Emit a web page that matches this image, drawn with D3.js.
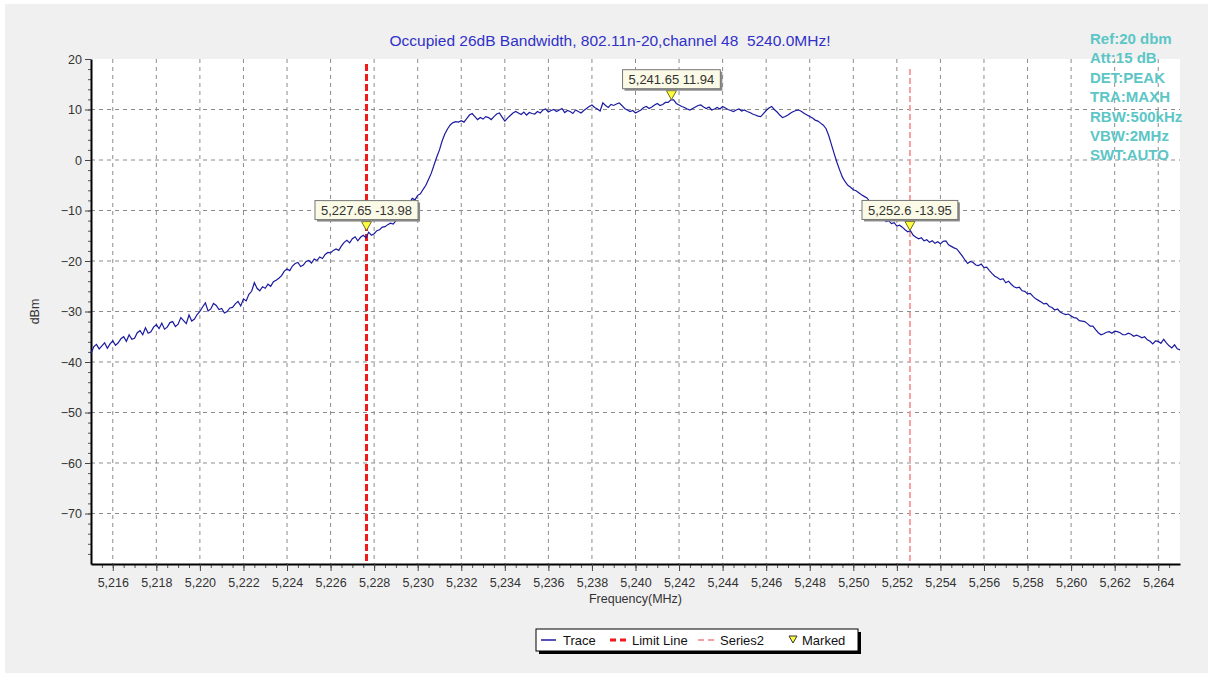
<!DOCTYPE html>
<html>
<head>
<meta charset="utf-8">
<script src="https://cdn.jsdelivr.net/npm/d3@7"></script>
<style>
  html, body { margin: 0; padding: 0; background: #ffffff; }
  svg { display: block; font-family: "Liberation Sans", Arial, sans-serif; }
</style>
</head>
<body>
<svg id="chart" width="1213" height="679"></svg>
<script>
// Частотная сетка трассы: 5215..5265 МГц, шаг 0.125
const freqStart = 5215
const freqStep = 0.125

// Значения трассы (dBm), по 8 точек на МГц
const traceValues = [
  -38.3, -37.0, -36.5, -37.4, -36.8, -36.2, -37.3, -36.4,
  -35.8, -36.7, -36.2, -35.4, -35.0, -35.9, -34.6, -35.5,
  -35.3, -34.2, -33.8, -34.6, -33.2, -34.3, -34.0, -33.1,
  -32.6, -33.4, -32.3, -33.5, -33.1, -32.2, -32.0, -33.0,
  -32.5, -31.2, -31.8, -32.4, -30.7, -31.9, -31.5, -30.6,
  -30.0, -29.1, -28.3, -29.9, -29.5, -28.4, -28.8, -29.6,
  -29.4, -30.3, -30.0, -29.3, -29.2, -28.5, -28.0, -28.9,
  -27.5, -27.9, -26.6, -26.0, -24.3, -25.4, -25.9, -25.1,
  -25.4, -24.6, -25.0, -24.1, -23.8, -23.4, -22.9, -22.0,
  -21.6, -21.9, -21.0, -20.5, -20.3, -21.1, -20.8, -20.1,
  -19.9, -20.4, -19.6, -19.9, -19.2, -19.5, -18.7, -18.3,
  -18.4, -17.9, -17.6, -17.9, -17.0, -16.3, -15.9, -16.4,
  -15.6, -15.2, -16.0, -15.3, -14.9, -15.4, -14.3, -14.9,
  -14.6, -14.0, -13.8, -13.3, -13.2, -12.8, -12.5, -12.7,
  -12.0, -11.6, -11.0, -10.4, -9.6, -8.5, -7.6, -7.9,
  -7.0, -6.7, -5.8, -5.0, -3.8, -2.6, -1.0, 0.6,
  2.0, 3.8, 5.2, 6.2, 7.0, 7.4, 7.6, 7.5,
  7.8, 7.5, 8.2, 8.9, 9.2, 8.6, 8.0, 8.4,
  8.1, 8.6, 8.4, 8.0, 8.6, 9.1, 9.3, 8.5,
  7.7, 8.3, 8.8, 9.3, 9.6, 9.3, 9.0, 9.5,
  8.9, 9.4, 9.2, 9.1, 9.6, 9.3, 9.9, 10.1,
  9.5, 9.8, 10.0, 9.6, 9.9, 10.2, 9.4, 9.8,
  9.6, 9.2, 9.9, 9.6, 9.3, 9.8, 10.2, 10.6,
  10.9, 10.4, 10.1, 9.7, 11.3, 10.8, 10.4, 11.0,
  10.8, 11.1, 11.3, 10.8, 10.2, 9.9, 9.6, 9.8,
  9.3, 9.6, 9.9, 10.4, 10.6, 10.2, 10.5, 10.9,
  11.2, 10.8, 11.0, 11.4, 11.4, 11.9, 11.9, 11.2,
  10.9, 10.6, 10.4, 10.1, 9.9, 10.2, 10.5, 10.8,
  10.9, 10.5, 10.2, 10.5, 9.9, 10.1, 10.4, 10.1,
  10.6, 10.3, 10.0, 9.8, 9.6, 9.9, 10.1, 9.7,
  9.9, 9.6, 9.4, 9.1, 8.9, 8.7, 8.6, 9.2,
  9.8, 10.3, 10.6, 10.0, 9.5, 8.9, 8.4, 8.6,
  8.9, 9.3, 9.6, 9.8, 9.9, 9.6, 9.2, 8.9,
  8.6, 8.3, 7.9, 7.7, 7.3, 6.9, 6.2, 4.8,
  3.0, 1.2, -0.5, -2.0, -3.4, -4.3, -5.0, -5.4,
  -5.9, -6.1, -6.5, -6.9, -7.2, -7.5, -8.2, -8.8,
  -9.6, -10.4, -11.0, -11.4, -12.2, -12.0, -12.6, -12.4,
  -13.1, -12.9, -13.3, -13.8, -14.2, -14.0, -14.9, -15.3,
  -15.6, -15.4, -16.0, -15.8, -16.3, -16.0, -16.5, -16.2,
  -16.6, -16.1, -16.0, -16.8, -17.1, -17.4, -17.6, -18.3,
  -19.0, -19.8, -20.5, -20.1, -20.3, -20.8, -20.9, -20.6,
  -21.3, -21.2, -21.9, -22.5, -23.0, -23.3, -23.7, -23.5,
  -24.3, -24.0, -24.6, -25.1, -25.3, -25.2, -25.9, -26.0,
  -26.5, -26.4, -27.0, -27.5, -27.8, -28.1, -28.5, -28.4,
  -29.0, -29.2, -29.7, -29.5, -30.1, -30.4, -30.6, -30.5,
  -30.9, -31.2, -31.3, -31.8, -31.9, -32.0, -32.4, -32.9,
  -32.9, -33.6, -34.2, -34.6, -34.4, -34.1, -34.0, -34.3,
  -33.9, -34.0, -34.2, -34.6, -34.6, -34.3, -34.5, -34.9,
  -34.7, -34.9, -35.2, -35.0, -35.6, -35.9, -36.4, -35.8,
  -35.9, -36.3, -35.5, -36.2, -36.8, -37.2, -36.6, -37.4,
  -37.6
]

// Маркеры
const markerFreqs = [5227.65, 5241.65, 5252.6]
const markerLevels = [-13.98, 11.94, -13.95]

// Вертикальные линии
const limitLineFreq = 5227.65
const series2Freq = 5252.6

// Подписи осей
const xTicks = d3.range(5216, 5265, 2)
const yTicks = d3.range(-70, 21, 10)
const infoLines = ['Ref:20 dbm', 'Att:15 dB', 'DET:PEAK', 'TRA:MAXH', 'RBW:500kHz', 'VBW:2MHz', 'SWT:AUTO']
const legendNames = ['Trace', 'Limit Line', 'Series2', 'Marked']

const config = {
  plotLeft: 91,
  plotRight: 1180,
  plotTop: 59,
  plotBottom: 564,
  colors: {
    bg: '#f0f0f0',
    trace: '#1a1aa0',
    limit: '#f01818',
    series2: '#f4a0a0',
    grid: '#8c8c8c',
    text: '#333333',
    title: '#3030c8',
    info: '#5cc6c6',
    marker: '#ffff40'
  }
}

const { plotLeft, plotRight, plotTop, plotBottom, colors } = config
const svg = d3.select('#chart')

// Фон
svg.append('rect')
  .attr('x', 5).attr('y', 4)
  .attr('width', 1203).attr('height', 669)
  .attr('fill', colors.bg)

svg.append('rect')
  .attr('x', plotLeft).attr('y', plotTop)
  .attr('width', plotRight - plotLeft).attr('height', plotBottom - plotTop)
  .attr('fill', '#ffffff')

const x = d3.scaleLinear().domain([5215, 5265]).range([plotLeft, plotRight])
const y = d3.scaleLinear().domain([-80, 20]).range([plotBottom, plotTop])

// Сетка
svg.append('g')
  .selectAll('line')
  .data(yTicks.filter(d => d < 20))
  .enter()
  .append('line')
  .attr('x1', plotLeft).attr('x2', plotRight)
  .attr('y1', d => y(d)).attr('y2', d => y(d))
  .attr('stroke', colors.grid)
  .attr('stroke-dasharray', '4,4')

svg.append('g')
  .selectAll('line')
  .data(xTicks)
  .enter()
  .append('line')
  .attr('x1', d => x(d)).attr('x2', d => x(d))
  .attr('y1', plotTop).attr('y2', plotBottom)
  .attr('stroke', colors.grid)
  .attr('stroke-dasharray', '4,4')

// Малые деления
svg.append('g')
  .attr('transform', `translate(0,${plotBottom})`)
  .call(d3.axisBottom(x).tickValues(d3.range(5215.5, 5265, 0.5)).tickSize(4).tickFormat(''))
  .call(g => g.select('.domain').remove())
  .selectAll('line').attr('stroke', '#555')

svg.append('g')
  .attr('transform', `translate(${plotLeft},0)`)
  .call(d3.axisLeft(y).tickValues(d3.range(-78, 20, 2)).tickSize(3).tickFormat(''))
  .call(g => g.select('.domain').remove())
  .selectAll('line').attr('stroke', '#555')

// Ось X
const xAxis = svg.append('g')
  .attr('transform', `translate(0,${plotBottom})`)
  .call(d3.axisBottom(x).tickValues(xTicks).tickSize(7).tickSizeOuter(0).tickFormat(d3.format(',')))
xAxis.select('.domain').attr('stroke', '#000').attr('stroke-width', 2)
xAxis.selectAll('.tick line').attr('stroke', '#444')
xAxis.selectAll('text')
  .attr('fill', colors.text)
  .attr('font-size', '12.5px')
  .attr('dy', '1.05em')

// Ось Y
const yAxis = svg.append('g')
  .attr('transform', `translate(${plotLeft},0)`)
  .call(d3.axisLeft(y).tickValues(yTicks).tickSize(6).tickSizeOuter(0))
yAxis.select('.domain').attr('stroke', '#000').attr('stroke-width', 2)
yAxis.selectAll('.tick line').attr('stroke', '#444')
yAxis.selectAll('text')
  .attr('fill', colors.text)
  .attr('font-size', '12.5px')
  .attr('x', -9)

// Подписи осей
svg.append('text')
  .attr('x', (plotLeft + plotRight) / 2)
  .attr('y', 603)
  .attr('text-anchor', 'middle')
  .attr('fill', colors.text)
  .attr('font-size', '12.5px')
  .text('Frequency(MHz)')

svg.append('text')
  .attr('transform', `translate(39,${(plotTop + plotBottom) / 2}) rotate(-90)`)
  .attr('text-anchor', 'middle')
  .attr('fill', colors.text)
  .attr('font-size', '12.5px')
  .text('dBm')

// Заголовок
svg.append('text')
  .attr('x', 610)
  .attr('y', 46)
  .attr('text-anchor', 'middle')
  .attr('fill', colors.title)
  .attr('font-size', '15.5px')
  .text('Occupied 26dB Bandwidth, 802.11n-20,channel 48\u00a0\u00a05240.0MHz!')

// Вертикальные линии
svg.append('line')
  .attr('x1', x(series2Freq)).attr('x2', x(series2Freq))
  .attr('y1', y(18)).attr('y2', plotBottom)
  .attr('stroke', colors.series2)
  .attr('stroke-width', 2)
  .attr('stroke-dasharray', '6,3')

svg.append('line')
  .attr('x1', x(limitLineFreq)).attr('x2', x(limitLineFreq))
  .attr('y1', y(19)).attr('y2', plotBottom)
  .attr('stroke', colors.limit)
  .attr('stroke-width', 3)
  .attr('stroke-dasharray', '7,3')

// Трасса
const line = d3.line()
  .x((d, i) => x(freqStart + i * freqStep))
  .y(d => y(d))

svg.append('path')
  .datum(traceValues)
  .attr('fill', 'none')
  .attr('stroke', colors.trace)
  .attr('stroke-width', 1.2)
  .attr('d', line)

// Маркеры
const markerData = markerFreqs.map((f, i) => ({ f, v: markerLevels[i] }))
const fmt = d3.format(',')

const markers = svg.append('g')
  .selectAll('g')
  .data(markerData)
  .enter()
  .append('g')
  .attr('transform', d => `translate(${x(d.f)},${y(d.v)})`)

markers.append('path')
  .attr('d', 'M-5,-9L5,-9L0,0Z')
  .attr('fill', colors.marker)
  .attr('stroke', '#6b6b20')
  .attr('stroke-width', 1)

markers.each(function (d) {
  const g = d3.select(this)
  const label = g.append('text')
    .attr('x', 0)
    .attr('y', -15.5)
    .attr('text-anchor', 'middle')
    .attr('fill', colors.text)
    .attr('font-size', '13px')
    .text(`${fmt(d.f)} ${d.v}`)
  const w = label.node().getComputedTextLength() + 12
  g.insert('rect', 'text')
    .attr('x', -w / 2 + 2).attr('y', -30 + 2)
    .attr('width', w).attr('height', 19)
    .attr('fill', '#8a8a8a')
  g.insert('rect', 'text')
    .attr('x', -w / 2).attr('y', -30)
    .attr('width', w).attr('height', 19)
    .attr('fill', '#fafae6')
    .attr('stroke', '#777')
})

// Параметры анализатора
svg.append('g')
  .selectAll('text')
  .data(infoLines)
  .enter()
  .append('text')
  .attr('x', 1090)
  .attr('y', (d, i) => 44 + i * 19.4)
  .attr('fill', colors.info)
  .attr('font-size', '15px')
  .attr('font-weight', 'bold')
  .text(d => d)

// Легенда
const legend = svg.append('g').attr('transform', 'translate(536,629)')
legend.append('rect')
  .attr('x', 3).attr('y', 3).attr('width', 322).attr('height', 22)
  .attr('fill', '#000')
legend.append('rect')
  .attr('x', 0).attr('y', 0).attr('width', 322).attr('height', 22)
  .attr('fill', '#fff').attr('stroke', '#000')

const legendX = [5, 74, 162, 253]
legend.append('line')
  .attr('x1', legendX[0]).attr('x2', legendX[0] + 15).attr('y1', 11).attr('y2', 11)
  .attr('stroke', colors.trace).attr('stroke-width', 1.5)
legend.append('line')
  .attr('x1', legendX[1]).attr('x2', legendX[1] + 19).attr('y1', 11).attr('y2', 11)
  .attr('stroke', colors.limit).attr('stroke-width', 3).attr('stroke-dasharray', '6,4')
legend.append('line')
  .attr('x1', legendX[2]).attr('x2', legendX[2] + 19).attr('y1', 11).attr('y2', 11)
  .attr('stroke', colors.series2).attr('stroke-width', 2).attr('stroke-dasharray', '6,4')
legend.append('path')
  .attr('d', `M${legendX[3]},7L${legendX[3] + 8},7L${legendX[3] + 4},14Z`)
  .attr('fill', colors.marker).attr('stroke', '#333')

legend.selectAll('text.item')
  .data(legendNames)
  .enter()
  .append('text')
  .attr('class', 'item')
  .attr('x', (d, i) => legendX[i] + (i === 3 ? 13 : 22))
  .attr('y', 15.5)
  .attr('fill', '#111')
  .attr('font-size', '13px')
  .text(d => d)
</script>
</body>
</html>
